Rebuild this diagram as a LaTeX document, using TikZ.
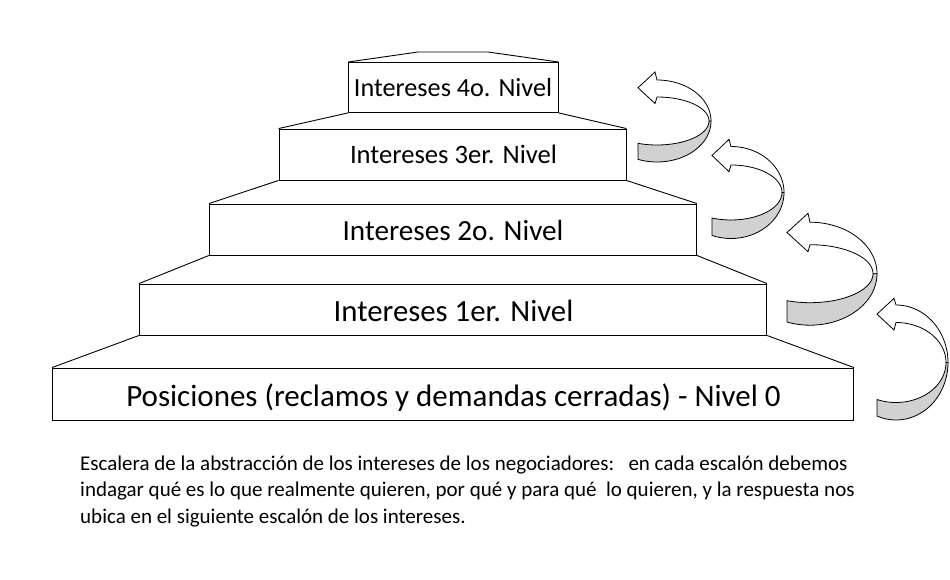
\documentclass[tikz,border=0pt]{standalone}
\usepackage{fontspec}
\setmainfont{Carlito}
\usetikzlibrary{calc}
\tikzset{
  stepbox/.style={draw=black, line width=0.9pt, fill=white, inner sep=0pt, anchor=center},
  riser/.style={draw=black, line width=0.9pt},
  ribbonback/.style={fill=black!18, draw=black, line width=0.8pt, line join=round},
  ribbonfront/.style={fill=white, draw=black, line width=0.8pt, line join=miter},
}
\newcommand{\curlarrow}[9]{%
  \pgfmathsetmacro{\ao}{acos((#7-#1)/#3)}%
  \pgfmathsetmacro{\ai}{acos((#7-#1)/#5)}%
  \pgfmathsetmacro{\tipy}{(#8+#9)/2}%
  \pgfmathsetmacro{\bx}{#1-2}%
  \filldraw[ribbonback] plot[domain=\ao:0, samples=40] ({#1+#3*cos(\x)},{#2+#4*sin(\x)})
     -- plot[domain=0:\ai, samples=40] ({#1+#5*cos(\x)},{#2+#6*sin(\x)}) -- cycle;
  \filldraw[ribbonfront] plot[domain=0:-90, samples=40] ({#1+#3*cos(\x)},{#2+#4*sin(\x)})
     -- (\bx,#8) -- (#7,\tipy) -- (\bx,#9)
     -- plot[domain=-90:0, samples=40] ({#1+#5*cos(\x)},{#2+#6*sin(\x)}) -- cycle;
}
\begin{document}
\begin{tikzpicture}[x=1pt, y=-1pt]
\useasboundingbox (0,0) rectangle (950,580);
\fill[white] (0,0) rectangle (950,580);

% steps
\node[stepbox, minimum width=801pt, minimum height=52pt] (b0) at (453,394) {};
\node[stepbox, minimum width=627pt, minimum height=51pt] (b1) at (453,309.5) {};
\node[stepbox, minimum width=487pt, minimum height=51pt] (b2) at (453,229.5) {};
\node[stepbox, minimum width=347pt, minimum height=51pt] (b3) at (452.5,154.5) {};
\node[stepbox, minimum width=210pt, minimum height=50pt] (b4) at (453.3,87.5) {};
\coordinate (tl) at (418,52);
\coordinate (tr) at (488,52);

\node[font=\fontsize{31}{34}\selectfont, anchor=base] (t0) at (453.5,406.5)
  {Posiciones (reclamos y demandas cerradas) - Nivel 0};
\node[font=\fontsize{30.8}{34}\selectfont, anchor=base] (t1) at (453.5,321)
  {Intereses 1er. Nivel};
\node[font=\fontsize{29.2}{32}\selectfont, anchor=base] (t2) at (453,240.5)
  {Intereses 2o. Nivel};
\node[font=\fontsize{26.6}{30}\selectfont, anchor=base] (t3) at (453.5,163.5)
  {Intereses 3er. Nivel};
\node[font=\fontsize{26.2}{30}\selectfont, anchor=base] (t4) at (453,97)
  {Intereses 4o. Nivel};

\draw[riser] (b0.north west) -- (b1.south west) (b0.north east) -- (b1.south east);
\draw[riser] (b1.north west) -- (b2.south west) (b1.north east) -- (b2.south east);
\draw[riser] (b2.north west) -- (b3.south west) (b2.north east) -- (b3.south east);
\draw[riser] (b3.north west) -- (b4.south west) (b3.north east) -- (b4.south east);
\draw[riser] (b4.north west) -- (tl) -- (tr) -- (b4.north east);

% curled arrows
\curlarrow{657}{121}{54}{41}{52}{24}{638}{72}{103.5}
\curlarrow{731}{192.5}{53}{46}{51}{27.5}{712}{139.3}{171.7}
\curlarrow{810}{273.7}{67}{51.5}{63}{29}{787}{213.3}{251.7}
\curlarrow{896}{362.5}{52}{57.5}{50}{40}{877}{298.3}{330}

% caption
\node[anchor=base west, align=left, inner sep=0pt, font=\fontsize{21}{26.5}\selectfont] (cap) at (80,523)
  {Escalera de la abstracción de los intereses de los negociadores:\ \ \ en cada escalón debemos\\
   indagar qué es lo que realmente quieren, por qué y para qué\ \ lo quieren, y la respuesta nos\\
   ubica en el siguiente escalón de los intereses.};
\end{tikzpicture}
\end{document}
